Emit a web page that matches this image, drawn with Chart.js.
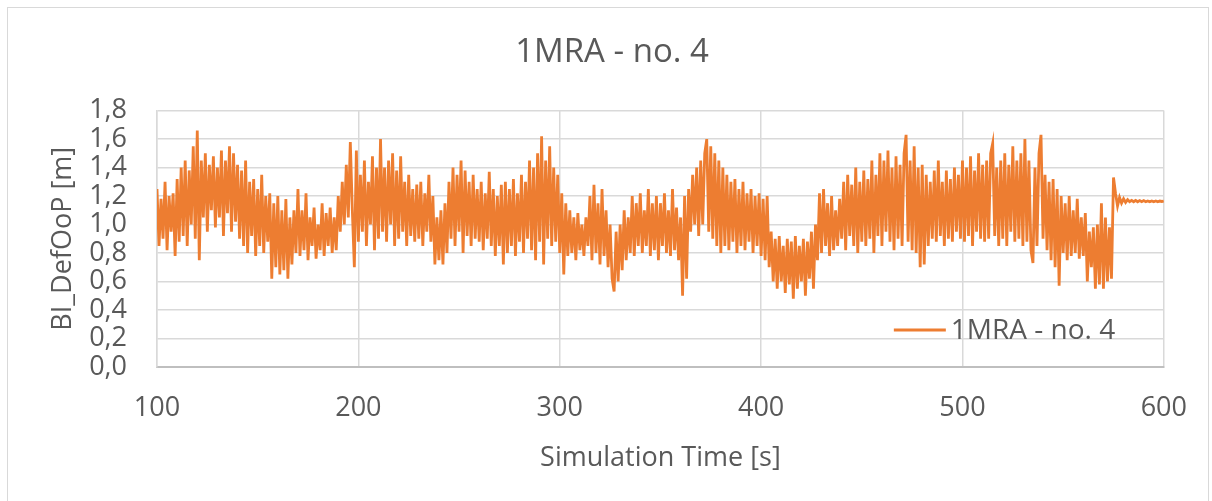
<!DOCTYPE html>
<html>
<head>
<meta charset="utf-8">
<title>1MRA - no. 4</title>
<script src="https://cdn.jsdelivr.net/npm/chart.js@4.4.1/dist/chart.umd.min.js"></script>
<style>
    html, body { margin: 0; padding: 0; background: #ffffff; }
    #wrap { position: relative; width: 1212px; height: 501px; }
</style>
</head>
<body>
<div id="wrap"><canvas id="bladeChart"></canvas></div>
<script>
// signal, one sample per second
const startTime = 100;
const stepTime = 1;

const block100 = [
    1.25, 0.85, 1.18, 0.90, 1.30, 0.82, 1.20, 0.95, 1.22, 0.78,
    1.32, 0.88, 1.40, 0.92, 1.45, 0.85, 1.38, 1.00, 1.55, 0.90,
    1.66, 0.75, 1.45, 1.05, 1.50, 0.95, 1.42, 1.10, 1.48, 0.98,
    1.40, 1.05, 1.52, 0.92, 1.45, 1.08, 1.55, 0.95, 1.50, 1.02,
    1.42, 0.90, 1.38, 0.85, 1.45, 0.80, 1.30, 0.92, 1.32, 0.78,
    1.25, 0.85, 1.35, 0.80, 1.20, 0.88, 1.22, 0.62, 1.15, 0.70,
    1.20, 0.65, 1.10, 0.68, 1.18, 0.62, 1.05, 0.72, 1.10, 0.80,
    1.25, 0.78, 1.10, 0.82, 1.22, 0.75, 1.05, 0.85, 1.12, 0.76,
    1.00, 0.82, 1.15, 0.78, 1.08, 0.85, 1.12, 0.80, 1.05, 0.82,
    1.20, 0.95, 1.30, 1.00, 1.42, 1.05, 1.58, 1.10, 0.70, 1.52
];
const block200 = [
    0.88, 1.35, 0.95, 1.45, 0.85, 1.30, 1.00, 1.48, 0.82, 1.40,
    0.90, 1.60, 0.95, 1.40, 0.88, 1.45, 1.00, 1.50, 0.85, 1.38,
    0.90, 1.48, 0.95, 1.30, 0.85, 1.35, 0.92, 1.25, 0.88, 1.28,
    0.90, 1.30, 0.85, 1.22, 0.95, 1.35, 0.88, 1.20, 0.72, 1.05,
    0.75, 1.10, 0.72, 1.15, 0.80, 1.30, 0.90, 1.40, 0.85, 1.35,
    0.95, 1.45, 0.80, 1.38, 0.92, 1.30, 0.85, 1.35, 0.90, 1.25,
    0.88, 1.30, 0.82, 1.22, 0.90, 1.37, 0.85, 1.25, 0.78, 1.20,
    0.85, 1.28, 0.72, 1.30, 0.80, 1.25, 0.85, 1.32, 0.78, 1.22,
    0.88, 1.35, 0.80, 1.30, 0.90, 1.45, 0.82, 1.40, 0.75, 1.50,
    0.88, 1.62, 0.72, 1.45, 0.90, 1.55, 0.85, 1.40, 0.88, 1.35
];
const block300 = [
    0.80, 1.22, 0.65, 1.15, 0.78, 1.10, 0.80, 1.05, 0.75, 1.08,
    0.82, 1.00, 0.78, 1.05, 0.85, 1.20, 0.75, 1.28, 0.80, 1.15,
    0.72, 1.25, 0.78, 1.10, 0.70, 1.00, 0.62, 0.53, 0.95, 0.60,
    1.00, 0.68, 1.10, 0.75, 1.05, 0.80, 1.20, 0.78, 1.15, 0.85,
    1.22, 0.80, 1.10, 0.85, 1.25, 0.78, 1.15, 0.82, 1.20, 0.75,
    1.15, 0.85, 1.22, 0.80, 1.10, 0.78, 1.25, 0.82, 1.12, 0.75,
    1.05, 0.50, 1.20, 0.62, 1.25, 0.95, 1.35, 1.00, 1.40, 0.92,
    1.45, 1.00, 1.50, 1.60, 0.95, 1.55, 0.90, 1.50, 0.85, 1.45,
    0.80, 1.40, 0.85, 1.35, 0.82, 1.30, 0.88, 1.32, 0.80, 1.25,
    0.85, 1.30, 0.82, 1.22, 0.88, 1.25, 0.80, 1.20, 0.85, 1.22
];
const block400 = [
    0.78, 1.18, 0.75, 1.20, 0.70, 0.95, 0.60, 0.90, 0.55, 0.92,
    0.60, 0.85, 0.52, 0.90, 0.58, 0.88, 0.48, 0.92, 0.55, 0.85,
    0.60, 0.90, 0.50, 0.88, 0.62, 0.95, 0.55, 1.00, 0.75, 1.22,
    0.80, 1.25, 0.85, 1.15, 0.78, 1.20, 0.82, 1.10, 0.85, 1.18,
    0.90, 1.30, 0.82, 1.35, 0.92, 1.28, 0.85, 1.40, 0.80, 1.30,
    0.88, 1.38, 0.85, 1.32, 0.90, 1.45, 0.80, 1.35, 0.92, 1.50,
    0.85, 1.45, 0.95, 1.52, 0.88, 1.40, 0.82, 1.48, 0.90, 1.42,
    0.85, 1.50, 1.63, 0.88, 1.45, 0.82, 1.55, 0.80, 1.40, 0.70,
    1.42, 0.72, 1.35, 0.85, 1.30, 0.90, 1.38, 0.88, 1.45, 0.92,
    1.30, 0.85, 1.38, 0.90, 1.32, 0.88, 1.40, 0.95, 1.35, 0.90
];
const block500 = [
    1.45, 0.88, 1.40, 0.92, 1.48, 0.85, 1.38, 0.95, 1.50, 0.90,
    1.42, 0.88, 1.45, 0.90, 1.50, 1.57, 0.92, 1.40, 0.85, 1.45,
    0.90, 1.50, 0.85, 1.42, 0.95, 1.55, 0.88, 1.45, 0.90, 1.50,
    0.85, 1.60, 0.88, 1.45, 0.82, 0.73, 1.40, 0.85, 1.50, 1.63,
    0.90, 1.35, 0.82, 1.30, 0.75, 1.32, 0.70, 1.25, 0.57, 1.20,
    0.80, 1.15, 0.75, 1.20, 0.78, 1.10, 0.80, 1.18, 0.76, 1.05,
    0.78, 1.08, 0.60, 0.95, 0.70, 0.98, 0.55, 1.00, 0.58, 1.15,
    0.55, 1.05, 0.60, 0.98, 0.62, 1.33,
    1.22, 1.13, 1.19, 1.15, 1.18, 1.155, 1.175, 1.16, 1.17, 1.16,
    1.17, 1.16, 1.168, 1.16, 1.168, 1.16, 1.166, 1.16, 1.166, 1.16,
    1.165, 1.16, 1.165, 1.162, 1.165
];

const seriesLabel = "1MRA - no. 4";
const xTicks = [100, 200, 300, 400, 500, 600];
const yTicks = [0, 0.2, 0.4, 0.6, 0.8, 1.0, 1.2, 1.4, 1.6, 1.8];

const values = block100.concat(block200, block300, block400, block500);
const points = values.map(function (v, i) {
    return { x: startTime + i * stepTime, y: v };
});

const textColor = "#595959";
const gridColor = "#d9d9d9";
const fontFamily = "'Open Sans', 'Liberation Sans', sans-serif";

// outer frame of the chart object
const framePlugin = {
    id: "frame",
    beforeDraw: function (chart) {
        let ctx = chart.ctx;
        ctx.save();
        ctx.fillStyle = "#ffffff";
        ctx.fillRect(0, 0, chart.width, chart.height);
        ctx.strokeStyle = gridColor;
        ctx.lineWidth = 1;
        ctx.strokeRect(7.5, 7.5, chart.width - 4 - 7, chart.height + 10);
        ctx.restore();
    }
};

// legend sitting inside the plot, bottom right
const insideLegend = {
    id: "insideLegend",
    afterDatasetsDraw: function (chart) {
        let ctx = chart.ctx;
        let area = chart.chartArea;
        let ds = chart.data.datasets[0];
        let y = area.bottom - 37;
        ctx.save();
        ctx.strokeStyle = ds.borderColor;
        ctx.lineWidth = 3;
        ctx.beginPath();
        ctx.moveTo(area.right - 270, y);
        ctx.lineTo(area.right - 218, y);
        ctx.stroke();
        ctx.fillStyle = textColor;
        ctx.font = "28px " + fontFamily;
        ctx.textBaseline = "middle";
        ctx.textAlign = "left";
        ctx.fillText(ds.label, area.right - 213, y + 1);
        ctx.restore();
    }
};

let ctx = document.getElementById("bladeChart").getContext("2d");

new Chart(ctx, {
    type: "line",
    data: {
        datasets: [{
            label: seriesLabel,
            data: points,
            borderColor: "#ED7D31",
            backgroundColor: "#ED7D31",
            borderWidth: 2.8,
            pointRadius: 0,
            tension: 0,
            fill: false
        }]
    },
    options: {
        responsive: true,
        maintainAspectRatio: false,
        animation: false,
        devicePixelRatio: 1,
        layout: {
            padding: { left: 12, right: 0, top: 0, bottom: 0 }
        },
        plugins: {
            legend: { display: false },
            tooltip: { enabled: false },
            title: {
                display: true,
                text: seriesLabel,
                color: textColor,
                font: { family: fontFamily, size: 33, weight: "normal" },
                padding: { top: 33, bottom: 38 }
            }
        },
        scales: {
            x: {
                type: "linear",
                min: 100,
                max: 600,
                afterBuildTicks: function (scale) {
                    scale.ticks = xTicks.map(function (v) { return { value: v }; });
                },
                afterFit: function (scale) { scale.height = 134; },
                ticks: {
                    color: textColor,
                    padding: 25,
                    maxRotation: 0,
                    autoSkip: false,
                    font: { family: fontFamily, size: 27 }
                },
                grid: { color: gridColor, lineWidth: 1.5, drawTicks: false },
                border: { color: "#bfbfbf", width: 2 },
                title: {
                    display: true,
                    text: "Simulation Time [s]",
                    color: textColor,
                    font: { family: fontFamily, size: 27 },
                    padding: { top: 18, bottom: 26 }
                }
            },
            y: {
                min: 0,
                max: 1.8,
                afterBuildTicks: function (scale) {
                    scale.ticks = yTicks.map(function (v) { return { value: v }; });
                },
                afterFit: function (scale) { scale.width = 145; },
                ticks: {
                    color: textColor,
                    padding: 30,
                    autoSkip: false,
                    font: { family: fontFamily, size: 27 },
                    callback: function (value) {
                        return value.toFixed(1).replace(".", ",");
                    }
                },
                grid: { color: gridColor, lineWidth: 1.5, drawTicks: false },
                border: { color: gridColor, width: 1.5 },
                title: {
                    display: true,
                    text: "BI_DefOoP [m]",
                    color: textColor,
                    font: { family: fontFamily, size: 27 },
                    padding: { top: 35, bottom: 10 }
                }
            },
            // empty strip on the right so the plot ends at the same place
            yRight: {
                position: "right",
                display: true,
                afterFit: function (scale) { scale.width = 47; },
                ticks: { display: false },
                grid: { display: false, drawOnChartArea: false },
                border: { display: false }
            }
        }
    },
    plugins: [framePlugin, insideLegend]
});
</script>
</body>
</html>
